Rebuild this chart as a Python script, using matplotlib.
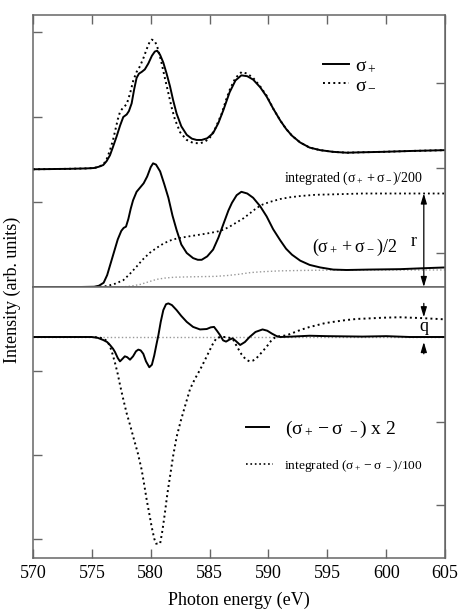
import matplotlib
matplotlib.use("Agg")
import matplotlib.pyplot as plt
from matplotlib.lines import Line2D

plt.rcParams['font.family'] = ['Liberation Serif', 'DejaVu Serif']
plt.rcParams['mathtext.fontset'] = 'custom'
plt.rcParams['mathtext.rm'] = 'Liberation Serif'
plt.rcParams['mathtext.it'] = 'Liberation Serif'
plt.rcParams['mathtext.bf'] = 'Liberation Serif:bold'

# ---------------- data ----------------
# top panel: sigma+ spectrum (offset)
E_plus = [570, 573, 574.5, 575.2, 575.6, 575.97, 576.25, 576.54, 576.8, 577.1, 577.4, 577.67,
          577.96, 578.15, 578.38, 578.6, 578.8, 579.0, 579.23, 579.5, 579.8, 580.1, 580.35,
          580.55, 580.8, 581.07, 581.35, 581.64, 581.9, 582.2, 582.6, 583.06, 583.5, 583.9,
          584.33, 584.8, 585.3, 585.75, 586.17, 586.7, 587.2, 587.7, 588.2, 588.7, 589.3,
          589.85, 590.4, 591.0, 591.5, 592.0, 592.7, 593.5, 594.4, 595.5, 596.65, 598,
          599.7, 602, 605]
sig_plus = [1.385, 1.39, 1.395, 1.40, 1.415, 1.435, 1.48, 1.55, 1.65, 1.77, 1.90, 2.00,
            2.03, 2.07, 2.16, 2.33, 2.46, 2.51, 2.53, 2.56, 2.63, 2.72, 2.77,
            2.78, 2.73, 2.64, 2.51, 2.36, 2.20, 2.04, 1.89, 1.79, 1.745, 1.73,
            1.73, 1.75, 1.81, 1.93, 2.08, 2.29, 2.43, 2.49, 2.48, 2.44, 2.35,
            2.24, 2.10, 1.96, 1.86, 1.78, 1.70, 1.64, 1.61, 1.59, 1.58, 1.585,
            1.59, 1.60, 1.61]

# sigma- spectrum (offset)
E_minus = [570, 573, 574.5, 575.2, 575.6, 575.97, 576.25, 576.54, 576.8, 577.0, 577.2,
           577.39, 577.65, 577.96, 578.25, 578.52, 578.8, 579.1, 579.4, 579.66, 579.9,
           580.08, 580.3, 580.5, 580.7, 580.93, 581.2, 581.5, 581.8, 582.06, 582.5, 583.06,
           583.6, 584.19, 584.6, 585.0, 585.5, 586.03, 586.4, 586.74, 587.2, 587.73, 588.2,
           588.7, 589.3, 589.85, 590.4, 591.0, 591.5, 592.0, 592.7, 593.5, 594.4, 595.5,
           596.65, 598, 599.7, 602, 605]
sig_minus = [1.385, 1.39, 1.395, 1.40, 1.415, 1.44, 1.50, 1.61, 1.73, 1.85, 1.97,
             2.06, 2.11, 2.15, 2.28, 2.43, 2.53, 2.60, 2.70, 2.80, 2.88,
             2.91, 2.90, 2.85, 2.76, 2.63, 2.46, 2.28, 2.10, 1.97, 1.82, 1.73,
             1.695, 1.69, 1.71, 1.75, 1.87, 2.04, 2.20, 2.33, 2.46, 2.53, 2.51,
             2.46, 2.36, 2.25, 2.10, 1.96, 1.86, 1.78, 1.70, 1.64, 1.61, 1.59,
             1.58, 1.585, 1.59, 1.60, 1.61]

# (sigma+ + sigma-)/2
E_sum = [570, 574, 575.2, 575.6, 576.0, 576.3, 576.6, 576.9, 577.2, 577.5, 577.7, 577.9,
         578.1, 578.3, 578.5, 578.8, 579.1, 579.4, 579.7, 580.0, 580.2, 580.45, 580.8,
         581.15, 581.5, 581.85, 582.2, 582.6, 583.06, 583.6, 584.0, 584.33, 584.8, 585.3,
         585.75, 586.2, 586.6, 586.9, 587.3, 587.7, 588.2, 588.7, 589.3, 589.85, 590.4,
         591.0, 591.5, 592.0, 592.7, 593.5, 594.4, 595.5, 596.65, 598.5, 601.2, 603, 605]
sum_half = [0.0, 0.0, 0.003, 0.015, 0.05, 0.14, 0.28, 0.42, 0.56, 0.66, 0.695, 0.71,
            0.80, 0.92, 1.02, 1.12, 1.17, 1.22, 1.30, 1.41, 1.455, 1.44, 1.36,
            1.21, 1.05, 0.84, 0.67, 0.50, 0.40, 0.34, 0.32, 0.32, 0.36, 0.44,
            0.58, 0.75, 0.90, 0.99, 1.08, 1.12, 1.10, 1.05, 0.95, 0.83, 0.68,
            0.55, 0.45, 0.38, 0.31, 0.26, 0.23, 0.205, 0.20, 0.205, 0.21, 0.22, 0.23]

# integrated (sigma+ + sigma-)/200
E_isum = [570, 575.5, 576, 576.5, 577, 577.67, 578.2, 578.8, 579.3, 579.9, 580.5, 581.07,
          581.6, 582.2, 583, 583.9, 584.8, 585.6, 586.2, 586.7, 587.3, 587.9, 588.5, 589.0,
          589.5, 590.1, 591, 591.8, 592.7, 594, 595.5, 598, 605]
int_sum = [0, 0, 0.005, 0.02, 0.04, 0.08, 0.15, 0.24, 0.32, 0.40, 0.46, 0.51,
           0.545, 0.57, 0.59, 0.61, 0.63, 0.65, 0.675, 0.71, 0.76, 0.81, 0.875, 0.93,
           0.97, 1.00, 1.035, 1.055, 1.07, 1.085, 1.09, 1.10, 1.10]

# background step (grey dotted)
E_bg = [570, 577.5, 578.3, 579.1, 579.8, 580.5, 581.2, 582, 583.5, 585.5, 586.5, 587.5,
        588.5, 589.5, 591, 593, 596, 605]
bg_step = [0, 0, 0.01, 0.03, 0.06, 0.09, 0.105, 0.115, 0.12, 0.125, 0.135, 0.15,
           0.17, 0.18, 0.19, 0.195, 0.20, 0.20]

# bottom panel: (sigma+ - sigma-) x 2
E_diff = [570, 574, 575, 575.5, 575.97, 576.3, 576.54, 576.8, 576.97, 577.2, 577.39, 577.6,
          577.8, 578.0, 578.24, 578.5, 578.75, 578.95, 579.15, 579.37, 579.6, 579.88, 580.1,
          580.3, 580.5, 580.65, 580.85, 581.07, 581.3, 581.5, 581.8, 582.2, 582.6, 583.06,
          583.6, 584.19, 584.76, 585.1, 585.38, 585.65, 585.9, 586.15, 586.4, 586.7, 586.96,
          587.25, 587.6, 588.0, 588.4, 588.9, 589.5, 589.9, 590.3, 590.7, 591.0, 592, 593.5,
          595, 598, 600, 602, 605]
diff2 = [0, 0, 0.0, -0.01, -0.036, -0.06, -0.095, -0.14, -0.18, -0.25, -0.29, -0.26,
         -0.23, -0.24, -0.27, -0.23, -0.17, -0.15, -0.16, -0.20, -0.29, -0.36, -0.33,
         -0.22, -0.08, 0.02, 0.18, 0.32, 0.39, 0.40, 0.38, 0.32, 0.25, 0.18,
         0.12, 0.09, 0.095, 0.115, 0.12, 0.07, 0.02, -0.04, -0.055, -0.03, -0.016,
         -0.05, -0.095, -0.06, 0.0, 0.06, 0.09, 0.075, 0.04, 0.01, 0.0, 0.005, 0.015,
         0.01, 0.005, 0.01, 0.0, 0.0]

# integrated (sigma+ - sigma-)/100
E_idiff = [570, 575, 575.6, 576, 576.3, 576.54, 576.75, 576.97, 577.2, 577.39, 577.7,
           577.96, 578.25, 578.52, 578.9, 579.23, 579.45, 579.66, 579.9, 580.08, 580.3,
           580.45, 580.8, 581.0, 581.2, 581.4, 581.64, 581.9, 582.2, 582.55, 582.9, 583.34,
           583.75, 584.19, 584.55, 584.9, 585.25, 585.6, 586.0, 586.3, 586.7, 587.0, 587.35,
           587.73, 588.1, 588.4, 588.7, 589.0, 589.45, 589.85, 590.2, 590.6, 591.0, 591.55,
           592.1, 592.7, 593.4, 594.1, 594.8, 595.5, 596.5, 597.5, 598.35, 599.8, 601.2,
           603, 605]
int_diff = [0, 0, -0.005, -0.02, -0.05, -0.11, -0.2, -0.31, -0.44, -0.57, -0.76,
            -0.91, -1.05, -1.19, -1.38, -1.58, -1.76, -1.94, -2.12, -2.26, -2.40,
            -2.46, -2.46, -2.30, -2.10, -1.88, -1.66, -1.42, -1.19, -1.00, -0.83, -0.62,
            -0.50, -0.39, -0.29, -0.19, -0.09, -0.01, 0.0, 0.0, -0.01, -0.03, -0.12,
            -0.21, -0.27, -0.29, -0.28, -0.25, -0.18, -0.115, -0.05, 0.0, 0.01, 0.02,
            0.05, 0.083, 0.115, 0.14, 0.165, 0.18, 0.20, 0.215, 0.22, 0.23, 0.235,
            0.225, 0.21]

x_ticks = [570, 575, 580, 585, 590, 595, 600, 605]

# ---------------- figure ----------------
W, H = 463, 610
fig = plt.figure(figsize=(W / 100, H / 100), dpi=100)
L, R = 33 / W, 445 / W
ax1 = fig.add_axes([L, 1 - 287 / H, R - L, (287 - 15) / H])
ax2 = fig.add_axes([L, 1 - 558 / H, R - L, (558 - 287) / H])

spine_c = '#666666'
for ax in (ax1, ax2):
    ax.set_xlim(570, 605)
    for s in ax.spines.values():
        s.set_color(spine_c)
        s.set_linewidth(1.1)
    ax.tick_params(direction='in', length=6.5, width=1.0, color=spine_c,
                   labelsize=13, pad=5)

lw = 1.4
# top panel
ax1.set_ylim(0, 3.2)
ax1.plot(E_bg, bg_step, ls=':', color='#999999', lw=1.0)
ax1.plot(E_isum, int_sum, ls=':', color='black', lw=1.3)
ax1.plot(E_sum, sum_half, color='black', lw=lw)
ax1.plot(E_minus, sig_minus, ls=':', color='black', lw=1.4)
ax1.plot(E_plus, sig_plus, color='black', lw=lw)
ax1.set_xticks(x_ticks)
ax1.tick_params(axis='x', top=True, bottom=False, labelbottom=False)
ax1.set_yticks([1, 2, 3])
ax1.tick_params(axis='y', labelleft=False)
sec1 = ax1.secondary_yaxis('right')
sec1.set_yticks([0.4, 1.4, 2.4])
sec1.tick_params(direction='in', length=6.5, width=1.0, color=spine_c, labelright=False)
sec1.spines['right'].set_color(spine_c)

h1 = [Line2D([], [], color='black', lw=lw), Line2D([], [], color='black', ls=':', lw=1.4)]
ax1.legend(h1, [r'$\sigma_+$', r'$\sigma_-$'], loc='upper left', bbox_to_anchor=(0.705, 0.845),
           frameon=False, fontsize=14, handlelength=1.3, handletextpad=0.3,
           labelspacing=0.05, borderpad=0, borderaxespad=0)

ax1.text(591.3, 1.28, r'integrated $(\sigma_+ + \sigma_-)$/200', fontsize=10,
         ha='left', va='center')
ax1.text(593.7, 0.47, r'$(\sigma_+ + \sigma_-)/2$', fontsize=13, ha='left', va='center')
ax1.text(602.3, 0.53, 'r', fontsize=13, ha='center', va='center')
ax1.annotate('', xy=(603.2, 1.10), xytext=(603.2, 0.0),
             arrowprops=dict(arrowstyle='<|-|>,head_length=0.6,head_width=0.18',
                             color='black', lw=0.9, shrinkA=0, shrinkB=0))

# bottom panel
ax2.set_ylim((337 - 558) / 84, (337 - 287) / 84)
ax2.axhline(0, ls=':', color='#999999', lw=1.0)
ax2.plot(E_idiff, int_diff, ls=':', color='black', lw=1.4)
ax2.plot(E_diff, diff2, color='black', lw=lw)
ax2.set_xticks(x_ticks)
ax2.tick_params(axis='x', top=False, bottom=True)
ax2.set_yticks([-0.405, -1.405, -2.405])
ax2.tick_params(axis='y', labelleft=False)
sec2 = ax2.secondary_yaxis('right')
sec2.set_yticks([-1.01, -2.0])
sec2.tick_params(direction='in', length=6.5, width=1.0, color=spine_c, labelright=False)
sec2.spines['right'].set_color(spine_c)
ax2.set_xlabel('Photon energy (eV)', fontsize=13, labelpad=7)

leg_a = ax2.legend([Line2D([], [], color='black', lw=lw)], [r'$(\sigma_+ - \sigma\ _-)$ x 2'],
                   loc='center left', bbox_to_anchor=(0.517, (429 - 287) / -271 + 1),
                   frameon=False, fontsize=14, handlelength=1.2, handletextpad=0.8,
                   borderpad=0, borderaxespad=0)
ax2.add_artist(leg_a)
ax2.legend([Line2D([], [], color='black', ls=':', lw=1.2)],
           [r'integrated $(\sigma_+ - \sigma\ _-)$/100'],
           loc='center left', bbox_to_anchor=(0.517, (466 - 287) / -271 + 1),
           frameon=False, fontsize=9.7, handlelength=2.0, handletextpad=0.8,
           borderpad=0, borderaxespad=0)

ax2.text(603.2, 0.12, 'q', fontsize=13, ha='center', va='center')
ax2.annotate('', xy=(603.2, 0.235), xytext=(603.2, 0.40),
             arrowprops=dict(arrowstyle='-|>,head_length=0.6,head_width=0.18',
                             color='black', lw=0.9, shrinkA=0, shrinkB=0))
ax2.annotate('', xy=(603.2, -0.06), xytext=(603.2, -0.20),
             arrowprops=dict(arrowstyle='-|>,head_length=0.6,head_width=0.18',
                             color='black', lw=0.9, shrinkA=0, shrinkB=0))

fig.text(12 / W, 1 - 290 / H, 'Intensity (arb. units)', rotation=90, fontsize=13,
         ha='center', va='center')

fig.savefig('out.png', dpi=100)
